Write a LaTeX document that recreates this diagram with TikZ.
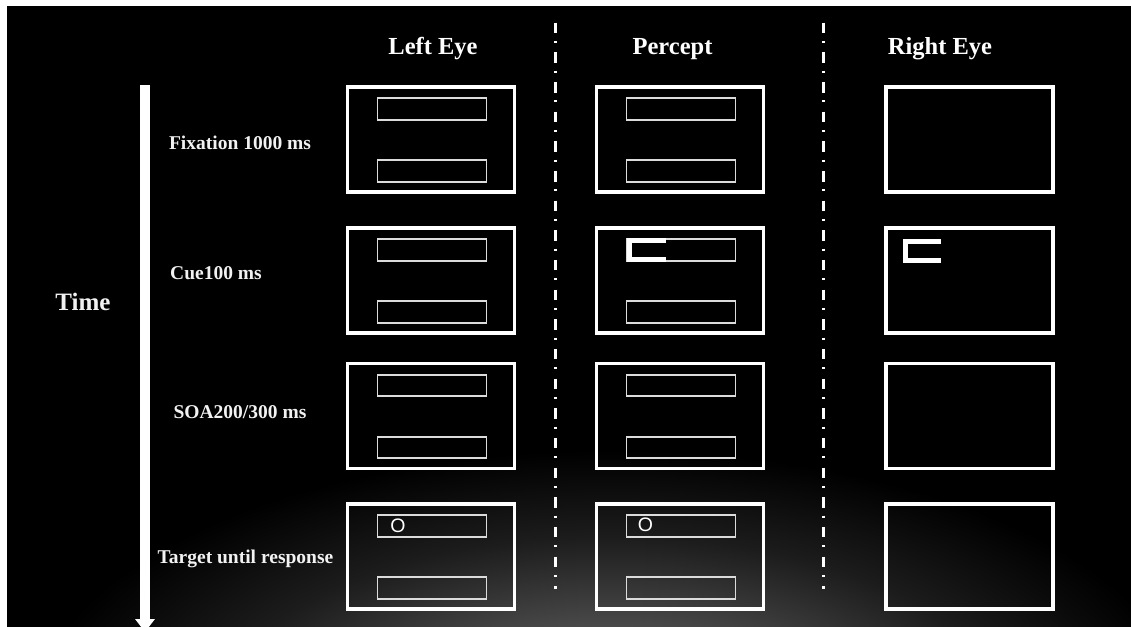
\documentclass[tikz,border=0pt]{standalone}
\usepackage{fontspec}
\setmainfont{Liberation Serif}
\newfontfamily\sansf{Liberation Sans}
\usetikzlibrary{arrows.meta}
\definecolor{glowa}{gray}{0.44}
\definecolor{glowb}{gray}{0.28}
\definecolor{glowc}{gray}{0.11}
\definecolor{barc}{gray}{0.86}
\definecolor{txtc}{gray}{0.95}
\pgfdeclareradialshading{glow}{\pgfpoint{0bp}{0bp}}{color(0bp)=(glowa); color(9bp)=(glowb); color(17bp)=(glowc); color(25bp)=(black); color(50bp)=(black)}
\begin{document}
\begin{tikzpicture}[x=1pt,y=-1pt,
  screen/.style={draw=white, line width=3.5pt, minimum width=167pt, minimum height=105pt, inner sep=0pt},
  bar/.style={draw=barc, line width=1.8pt, minimum width=109pt, minimum height=21.5pt, inner sep=0pt},
  cuemark/.style={draw=white, line width=4.5pt, line join=miter},
  target/.style={text=white, font=\sansf\fontsize{19.5}{22}\selectfont, inner sep=0pt},
  header/.style={text=white, font=\bfseries\fontsize{24.5}{29}\selectfont, anchor=base, inner sep=0pt},
  rowlabel/.style={text=txtc, font=\bfseries\fontsize{19.5}{23}\selectfont, anchor=base, inner sep=0pt},
  timelabel/.style={text=txtc, font=\bfseries\fontsize{25}{30}\selectfont, anchor=base, inner sep=0pt},
  separator/.style={draw=white, line width=2.5pt, dash pattern=on 10.5pt off 7.8pt on 2pt off 9.36pt},
  timeline/.style={draw=white, line width=9.5pt, -{Triangle[width=19pt,length=13pt]}}
]
\useasboundingbox (0,0) rectangle (1131,626);
\fill[black] (-30,-30) rectangle (1161,656);
\begin{scope}
  \clip (0,0) rectangle (1131,626);
  \shade[shading=glow] (610,720) ellipse [x radius=580, y radius=270];
\end{scope}
\fill[white] (-30,-30) rectangle (1161,6);
\fill[white] (-30,-30) rectangle (6.5,656);

% headers
\node[header] (hl) at (433,55) {Left Eye};
\node[header] (hp) at (672.5,55) {Percept};
\node[header] (hr) at (940,55) {Right Eye};

% separators
\coordinate (s1a) at (555.5,22.7);
\coordinate (s1b) at (555.5,589);
\coordinate (s2a) at (823.5,22.7);
\coordinate (s2b) at (823.5,589);
\draw[separator] (s1a) -- (s1b);
\draw[separator] (s2a) -- (s2b);

% time arrow
\coordinate (t0) at (145,85);
\coordinate (t1) at (145,632);
\draw[timeline] (t0) -- (t1);
\node[timelabel] (time) at (83,310) {Time};

% row labels
\node[rowlabel] (r1) at (240,149) {Fixation 1000 ms};
\node[rowlabel] (r2) at (216,279) {Cue100 ms};
\node[rowlabel] (r3) at (240,418) {SOA200/300 ms};
\node[rowlabel] (r4) at (245.5,563) {Target until response};

% screens
\foreach \c/\x in {L/431,P/680,R/969.5}{
  \foreach \r/\y in {1/139.5,2/280.5,3/416,4/556.5}{
    \node[screen] (\c\r) at (\x,\y) {};
  }
}
\foreach \c in {L,P}{
  \foreach \r in {1,2,3,4}{
    \node[bar] (\c\r-u) at ([shift={(1,-30.5)}]\c\r.center) {};
    \node[bar] (\c\r-d) at ([shift={(1,31.5)}]\c\r.center) {};
  }
}

% cue marks
\draw[cuemark] (666,240.3) -- (629.3,240.3) -- (629.3,259.7) -- (666,259.7);
\draw[cuemark] (941,241.3) -- (905.3,241.3) -- (905.3,260.7) -- (941,260.7);

% targets
\node[target] (lt) at (398,526) {O};
\node[target] (pt) at (645.5,525) {O};
\end{tikzpicture}
\end{document}
